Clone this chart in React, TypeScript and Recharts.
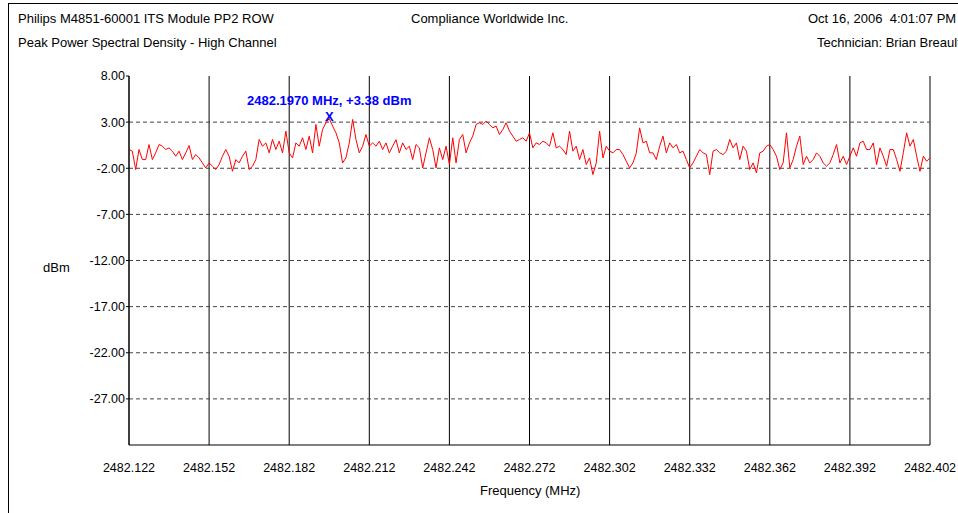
import React from 'react';
import { LineChart, Line, XAxis, YAxis, CartesianGrid, ReferenceLine, ReferenceDot } from 'recharts';

const xTickLabels = ['2482.122', '2482.152', '2482.182', '2482.212', '2482.242', '2482.272', '2482.302', '2482.332', '2482.362', '2482.392', '2482.402'];
const yTicks = [8, 3, -2, -7, -12, -17, -22, -27];

const powerA = [0.03, -0.15, -2.14, 0.03, -1.06, -1.06, 0.57, -1.06, -0.33, 0.57, 0.39, 0.03, 0.21, -0.15, -0.70, -0.15, -1.06, -0.33, 0.46, -1.06, -0.51, -0.88, -1.42, -1.96, -1.42, -1.78, -2.14, -1.60, -0.70, 0.03, -0.70, -2.33, -1.06, -1.42, -0.70, -0.15, -2.14, -1.78, -1.06, 1.12, 0.39, 0.75, -0.33, 1.12, 0.03, 0.93, -0.33, 2.02, -0.33, -0.88, 0.75, 0.39, 1.30, 0.03, 1.48, -0.33, 2.75, 0.39, 2.20, 2.93, 3.38, 2.57, 1.84, 0.75, -1.42, -0.88, 0.75, 3.29, 1.12, -0.33, 0.39, 1.66, 0.39, 0.75, 0.39, 0.93, 0.03, 0.75, -0.33, 0.39, 1.10];
const powerB = [-0.33, 0.75, 0.03, 0.39, -1.06, 0.57, 0.21, -1.96, -0.33, 1.30, 0.03, -1.96, 0.21, -1.06, 0.39, -1.60, 1.30, -1.42, 1.12, 1.66, -0.33, 0.75, 1.48, 2.75, 2.93, 2.75, 3.11, 2.75, 2.38, 2.57, 1.66, 2.20, 2.93, 2.02, 1.48, 0.93, 1.12, 1.30, 0.93, 1.84, 0.21, 0.75, 0.57, 0.93, 0.75, 0.39, 1.84, 0.21, 0.39, 0.03, -0.51, 2.02, -0.15, 0.39, -1.06, 0.03, -1.60, -0.88, -2.69, -1.42, 2.02, -0.88, 0.39, -0.15, -0.33, 0.03, 0.03, -0.51, -1.24, -1.96, -1.42, -0.33, 2.38, 0.75, 0.93, -0.33, -0.33, -1.06, 0.39, 1.48];
const powerC = [-0.33, 0.75, 0.21, 0.57, -0.33, -0.15, -1.06, -1.96, -1.42, -0.70, 0.03, -0.33, -0.51, -2.69, -0.15, 0.03, -0.33, -0.51, -0.15, 1.12, 0.21, 0.75, -1.06, 0.39, -0.15, -2.14, -1.42, -2.51, -0.33, -0.15, 0.39, 0.57, 0.03, -0.70, -2.14, -1.42, 1.84, -1.96, -1.06, 0.39, 1.48, -1.60, -0.70, -1.42, -1.06, -0.33, -0.70, -1.42, -1.78, -1.42, -0.51, 0.57, -1.42, -0.70, -1.60, -0.70, 0.21, -0.70, 0.75, 0.93, 0.03, 0.03, 0.75, -1.60, 0.21, -0.70, -1.78, 0.03, 0.03, -1.06, -2.33, -0.33, 1.84, 0.39, 1.12, -0.70, -2.33, -0.70, -1.24, -0.88];

const peakIndex = 60;
const peakValue = 3.38;
const peakLabel = '2482.1970 MHz, +3.38 dBm';

const power = [...powerA, ...powerB, ...powerC];
const data = power.map((v, i) => ({ i, v }));
const stepPerTick = (power.length - 1) / (xTickLabels.length - 1);
const xTicks = xTickLabels.map((_, k) => k * stepPerTick);

const FONT = '"Liberation Sans", Arial, sans-serif';

const PeakShape = (props: any) => {
  const { cx, cy } = props;
  return (
    <g>
      <text x={cx} y={cy - 18} textAnchor="middle" dominantBaseline="central" fill="#0000ff" fontWeight="bold" fontSize={13} fontFamily={FONT}>{peakLabel}</text>
      <text x={cx} y={cy - 2} textAnchor="middle" dominantBaseline="central" fill="#0000ff" fontWeight="bold" fontSize={13} fontFamily={FONT}>X</text>
    </g>
  );
};

const txt: React.CSSProperties = { position: 'absolute', fontFamily: FONT, fontSize: 13, color: '#000', whiteSpace: 'nowrap', lineHeight: '14px' };

export default function App() {
  return (
    <div style={{ position: 'absolute', left: 0, top: 0, width: 958, height: 513, overflow: 'hidden', background: '#fff' }}>
      <div style={{ position: 'absolute', left: 8, top: 3, width: 1000, height: 600, borderLeft: '1px solid #000', borderTop: '1px solid #000' }} />
      <div style={{ ...txt, left: 18, top: 12 }}>Philips M4851-60001 ITS Module PP2 ROW</div>
      <div style={{ ...txt, left: 18, top: 36 }}>Peak Power Spectral Density - High Channel</div>
      <div style={{ ...txt, left: 411, top: 12 }}>Compliance Worldwide Inc.</div>
      <div style={{ ...txt, left: 808, top: 12 }}>Oct 16, 2006&nbsp;&nbsp;4:01:07 PM</div>
      <div style={{ ...txt, left: 817, top: 36 }}>Technician: Brian Breault</div>
      <div style={{ ...txt, left: 43, top: 261 }}>dBm</div>
      <div style={{ ...txt, left: 480, top: 484 }}>Frequency (MHz)</div>
      <div style={{ position: 'absolute', left: 0, top: 0 }}>
        <LineChart width={958} height={513} data={data} margin={{ top: 76, right: 28, bottom: 38, left: 69 }}>
          <CartesianGrid horizontal={false} vertical={true} stroke="#000" />
          {yTicks.filter((t) => t !== yTicks[0]).map((t) => (
            <ReferenceLine key={t} y={t} stroke="#444" strokeDasharray="4 3" ifOverflow="visible" />
          ))}
          <XAxis
            type="number"
            dataKey="i"
            domain={[0, power.length - 1]}
            ticks={xTicks}
            tickFormatter={(v: number) => xTickLabels[Math.round(v / stepPerTick)]}
            interval={0}
            axisLine={{ stroke: '#000' }}
            tickLine={false}
            tickMargin={12}
            height={30}
            tick={{ fontSize: 12.5, fill: '#000', fontFamily: FONT }}
          />
          <YAxis
            type="number"
            domain={[-32, 8]}
            ticks={yTicks}
            tickFormatter={(v: number) => v.toFixed(2)}
            interval={0}
            axisLine={{ stroke: '#000' }}
            tickLine={{ stroke: '#000' }}
            tickSize={3}
            tickMargin={1}
            width={60}
            tick={{ fontSize: 12.5, fill: '#000', fontFamily: FONT }}
          />
          <Line type="linear" dataKey="v" stroke="#ff0000" strokeWidth={1} dot={false} isAnimationActive={false} />
          <ReferenceDot x={peakIndex} y={peakValue} shape={PeakShape} ifOverflow="visible" />
        </LineChart>
      </div>
    </div>
  );
}
